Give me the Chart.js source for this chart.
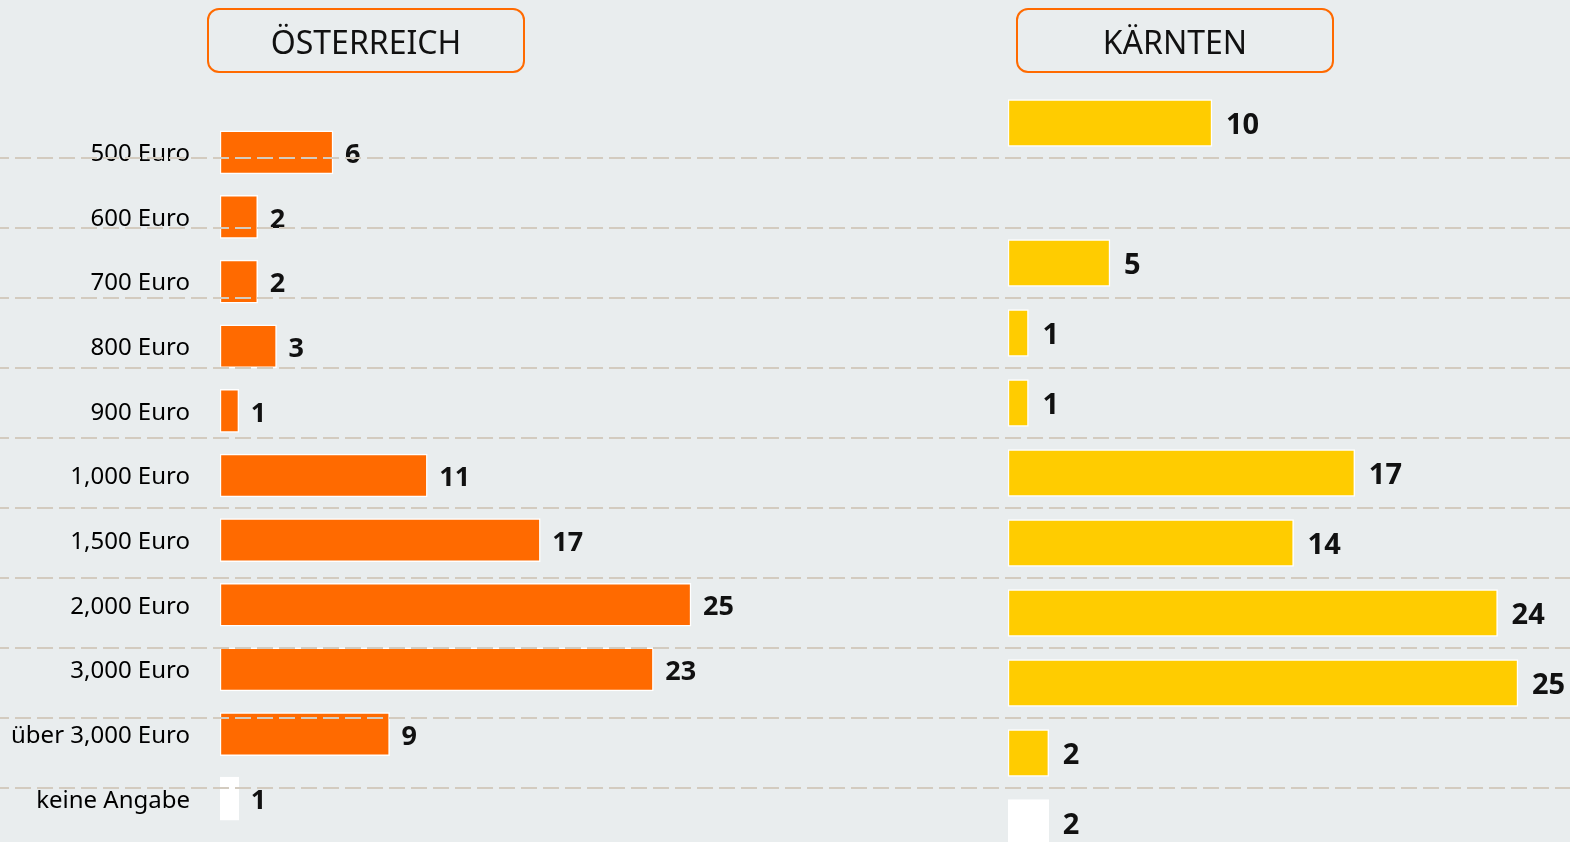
<!DOCTYPE html>
<html lang="de">
<head>
<meta charset="utf-8">
<title>Österreich / Kärnten</title>
<script src="https://cdn.jsdelivr.net/npm/chart.js@4"></script>
<style>
    html, body { margin: 0; padding: 0; }
    body {
        width: 1570px; height: 842px; overflow: hidden; position: relative;
        background: #e9edee; font-family: 'Noto Sans', sans-serif;
    }
    #austriaBox { position: absolute; left: 0; top: 0; width: 1000px; height: 842px; }
    #carinthiaBox { position: absolute; left: 0; top: 0; width: 1570px; height: 900px; }
    .regionTitle {
        position: absolute; top: 8px; width: 318px; height: 65px;
        box-sizing: border-box; border: 2.5px solid #ff6a00; border-radius: 12px;
        display: flex; align-items: center; justify-content: center; padding-top: 2px;
        font: 400 32px 'Noto Sans', sans-serif; color: #111;
    }
</style>
</head>
<body>
<div id="austriaBox"><canvas id="chartAustria"></canvas></div>
<div id="carinthiaBox"><canvas id="chartCarinthia"></canvas></div>
<div class="regionTitle" style="left:207px">ÖSTERREICH</div>
<div class="regionTitle" style="left:1016px">KÄRNTEN</div>
<script>
const categories = ['500 Euro', '600 Euro', '700 Euro', '800 Euro', '900 Euro', '1,000 Euro',
    '1,500 Euro', '2,000 Euro', '3,000 Euro', 'über 3,000 Euro', 'keine Angabe'];
const valuesAustria = [6, 2, 2, 3, 1, 11, 17, 25, 23, 9, 1];
const valuesCarinthia = [10, null, 5, 1, 1, 17, 14, 24, 25, 2, 2];

const orange = '#ff6a00';
const yellow = '#ffcc00';
const dashColor = '#d3cbbf';

// last category ("keine Angabe") is drawn white
const barColors = (color) => categories.map((c, i) => i === categories.length - 1 ? '#ffffff' : color);

const valueLabels = {
    id: 'valueLabels',
    afterDatasetsDraw(chart, args, opts) {
        const ctx = chart.ctx;
        const data = chart.data.datasets[0].data;
        ctx.save();
        ctx.font = opts.font;
        ctx.fillStyle = '#111';
        ctx.textAlign = 'left';
        ctx.textBaseline = 'middle';
        chart.getDatasetMeta(0).data.forEach((bar, i) => {
            if (data[i] === null) return;
            ctx.fillText(String(data[i]), bar.x + opts.gap, bar.y + opts.shift);
        });
        ctx.restore();
    }
};

// fixed axis width, and no extra label padding eating into the chart area
function fixAxis(width) {
    return (scale) => {
        scale.width = width;
        scale.paddingTop = 0;
        scale.paddingBottom = 0;
    };
}

let austriaChart = new Chart(document.getElementById('chartAustria'), {
    type: 'bar',
    data: {
        labels: categories,
        datasets: [{
            data: valuesAustria,
            backgroundColor: barColors(orange),
            borderColor: '#ffffff',
            borderWidth: 1.5,
            borderSkipped: false,
            barThickness: 43
        }]
    },
    plugins: [valueLabels],
    options: {
        indexAxis: 'y',
        animation: false,
        responsive: true,
        maintainAspectRatio: false,
        layout: { padding: { top: 120, bottom: 11, left: 0, right: 0 } },
        scales: {
            x: { display: false, min: 0, max: 41.4 },
            y: {
                grid: { display: false, drawTicks: false },
                border: { display: false },
                ticks: {
                    autoSkip: false,
                    padding: 30,
                    labelOffset: 2,
                    color: '#000',
                    font: { family: 'Noto Sans', size: 24 }
                },
                afterFit: fixAxis(220)
            }
        },
        plugins: {
            legend: { display: false },
            tooltip: { enabled: false },
            valueLabels: { font: 'bold 27px "Noto Sans"', gap: 12, shift: 3 }
        }
    }
});

let carinthiaChart = new Chart(document.getElementById('chartCarinthia'), {
    type: 'bar',
    data: {
        labels: categories,
        datasets: [{
            data: valuesCarinthia,
            backgroundColor: barColors(yellow),
            borderColor: '#ffffff',
            borderWidth: 1.5,
            borderSkipped: false,
            barThickness: 47
        }]
    },
    plugins: [valueLabels],
    options: {
        indexAxis: 'y',
        animation: false,
        responsive: true,
        maintainAspectRatio: false,
        layout: { padding: { top: 88, bottom: 42, left: 0, right: 0 } },
        scales: {
            x: { display: false, min: 0, max: 27.55 },
            y: {
                ticks: { display: false },
                // dashed separators run across the whole page: the tick marks cover the left part
                grid: {
                    offset: true,
                    lineWidth: 2,
                    color: (ctx) => ctx.index === 0 ? 'rgba(0,0,0,0)' : dashColor,
                    drawTicks: true,
                    tickLength: 1008,
                    tickBorderDash: [16, 6],
                    tickBorderDashOffset: 7
                },
                border: { display: false, dash: [16, 6], dashOffset: 3 },
                afterFit: fixAxis(1008)
            }
        },
        plugins: {
            legend: { display: false },
            tooltip: { enabled: false },
            valueLabels: { font: 'bold 29px "Noto Sans"', gap: 14, shift: 3 }
        }
    }
});
</script>
</body>
</html>
